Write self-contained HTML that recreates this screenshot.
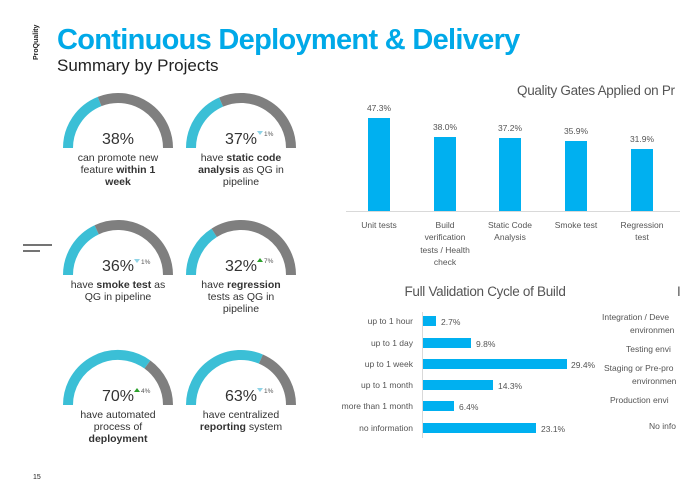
<!DOCTYPE html>
<html><head><meta charset="utf-8"><style>
body{margin:0;background:#fff;width:680px;height:500px;overflow:hidden}
svg{display:block;font-family:"Liberation Sans",sans-serif}
</style></head><body>
<svg width="680" height="500" viewBox="0 0 680 500">
<text x="0" y="0" transform="translate(38,60) rotate(-90)" font-size="7" font-weight="bold" fill="#222">ProQuality</text>
<text x="57" y="49" font-size="29" font-weight="bold" fill="#00a9e8" letter-spacing="-0.7">Continuous Deployment &amp; Delivery</text>
<text x="57" y="71" font-size="17" fill="#222">Summary by Projects</text>
<line x1="23" y1="245" x2="52" y2="245" stroke="#222" stroke-width="1.2"/>
<line x1="23" y1="251" x2="40" y2="251" stroke="#222" stroke-width="1.2"/>
<text x="33" y="479" font-size="7" fill="#222">15</text>

<g fill="none" stroke-width="10">
<path d="M68,148 A50,50 0 0 1 99.6,101.5" stroke="#3bbfd6"/><path d="M99.6,101.5 A50,50 0 0 1 168,148" stroke="#7f7f7f"/>
<path d="M191,148 A50,50 0 0 1 221.1,102.1" stroke="#3bbfd6"/><path d="M221.1,102.1 A50,50 0 0 1 291,148" stroke="#7f7f7f"/>
<path d="M68,275 A50,50 0 0 1 96.7,229.8" stroke="#3bbfd6"/><path d="M96.7,229.8 A50,50 0 0 1 168,275" stroke="#7f7f7f"/>
<path d="M191,275 A50,50 0 0 1 214.2,232.8" stroke="#3bbfd6"/><path d="M214.2,232.8 A50,50 0 0 1 291,275" stroke="#7f7f7f"/>
<path d="M68,405 A50,50 0 0 1 147.4,364.5" stroke="#3bbfd6"/><path d="M147.4,364.5 A50,50 0 0 1 168,405" stroke="#7f7f7f"/>
<path d="M191,405 A50,50 0 0 1 260.9,359.1" stroke="#3bbfd6"/><path d="M260.9,359.1 A50,50 0 0 1 291,405" stroke="#7f7f7f"/>
</g>
<g font-size="16" fill="#333" text-anchor="middle">
<text x="118" y="144">38%</text><text x="241" y="144">37%</text>
<text x="118" y="271">36%</text><text x="241" y="271">32%</text>
<text x="118" y="401">70%</text><text x="241" y="401">63%</text>
</g>
<g font-size="6.5" fill="#555">
<polygon points="257,131 263,131 260,135" fill="#8fd3e6"/><text x="264" y="136">1%</text>
<polygon points="134,259 140,259 137,263" fill="#8fd3e6"/><text x="141" y="264">1%</text>
<polygon points="257,262 263,262 260,258" fill="#2ca02c"/><text x="264" y="263">7%</text>
<polygon points="134,392 140,392 137,388" fill="#2ca02c"/><text x="141" y="393">4%</text>
<polygon points="257,388 263,388 260,392" fill="#8fd3e6"/><text x="264" y="393">1%</text>
</g>
<g font-size="10.5" fill="#333" text-anchor="middle">
<text x="118" y="161">can promote new</text>
<text x="118" y="173">feature <tspan font-weight="bold">within 1</tspan></text>
<text x="118" y="185" font-weight="bold">week</text>
<text x="241" y="161">have <tspan font-weight="bold">static code</tspan></text>
<text x="241" y="173"><tspan font-weight="bold">analysis</tspan> as QG in</text>
<text x="241" y="185">pipeline</text>
<text x="118" y="288">have <tspan font-weight="bold">smoke test</tspan> as</text>
<text x="118" y="300">QG in pipeline</text>
<text x="241" y="288">have <tspan font-weight="bold">regression</tspan></text>
<text x="241" y="300">tests as QG in</text>
<text x="241" y="312">pipeline</text>
<text x="118" y="418">have automated</text>
<text x="118" y="430">process of</text>
<text x="118" y="442" font-weight="bold">deployment</text>
<text x="241" y="418">have centralized</text>
<text x="241" y="430"><tspan font-weight="bold">reporting</tspan> system</text>
</g>

<text x="517" y="95" font-size="13.5" fill="#555" letter-spacing="-0.3">Quality Gates Applied on Pr</text>
<g fill="#00b0f0">
<rect x="368" y="118" width="22" height="93"/>
<rect x="434" y="137" width="22" height="74"/>
<rect x="499" y="138" width="22" height="73"/>
<rect x="565" y="141" width="22" height="70"/>
<rect x="631" y="149" width="22" height="62"/>
</g>
<line x1="346" y1="211.5" x2="680" y2="211.5" stroke="#d9d9d9"/>
<g font-size="8.5" fill="#555" text-anchor="middle">
<text x="379" y="111">47.3%</text><text x="445" y="130">38.0%</text><text x="510" y="131">37.2%</text><text x="576" y="134">35.9%</text><text x="642" y="142">31.9%</text>
<text x="379" y="228">Unit tests</text>
<text x="445" y="228">Build</text><text x="445" y="240">verification</text><text x="445" y="253">tests / Health</text><text x="445" y="265">check</text>
<text x="510" y="228">Static Code</text><text x="510" y="240">Analysis</text>
<text x="576" y="228">Smoke test</text>
<text x="642" y="228">Regression</text><text x="642" y="240">test</text>
</g>

<text x="485" y="296" font-size="13.5" fill="#555" text-anchor="middle" letter-spacing="-0.3">Full Validation Cycle of Build</text>
<line x1="422.5" y1="312" x2="422.5" y2="438" stroke="#d9d9d9"/>
<g fill="#00b0f0">
<rect x="423" y="316" width="13" height="10"/>
<rect x="423" y="338" width="48" height="10"/>
<rect x="423" y="359" width="144" height="10"/>
<rect x="423" y="380" width="70" height="10"/>
<rect x="423" y="401" width="31" height="10"/>
<rect x="423" y="423" width="113" height="10"/>
</g>
<g font-size="8.5" fill="#555" text-anchor="end">
<text x="413" y="324">up to 1 hour</text><text x="413" y="346">up to 1 day</text><text x="413" y="367">up to 1 week</text>
<text x="413" y="388">up to 1 month</text><text x="413" y="409">more than 1 month</text><text x="413" y="431">no information</text>
</g>
<g font-size="8.5" fill="#555">
<text x="441" y="325">2.7%</text><text x="476" y="347">9.8%</text><text x="571" y="368">29.4%</text>
<text x="498" y="389">14.3%</text><text x="459" y="410">6.4%</text><text x="541" y="432">23.1%</text>
</g>
<text x="677" y="296" font-size="13.5" fill="#555">I</text>
<g font-size="8.5" fill="#555">
<text x="602" y="320">Integration / Deve</text><text x="630" y="333">environmen</text>
<text x="626" y="352">Testing envi</text>
<text x="604" y="371">Staging or Pre-pro</text><text x="632" y="384">environmen</text>
<text x="610" y="403">Production envi</text>
<text x="649" y="429">No info</text>
</g>
</svg>
</body></html>
